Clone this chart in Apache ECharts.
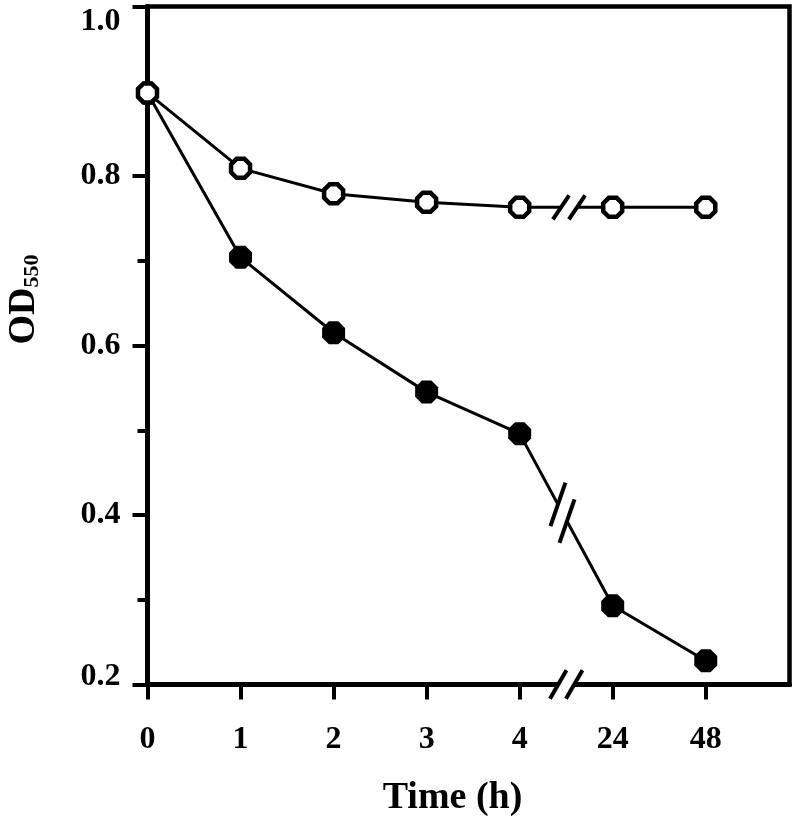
<!DOCTYPE html>
<html>
<head>
<meta charset="utf-8">
<script src="https://cdn.jsdelivr.net/npm/echarts@6/dist/echarts.min.js"></script>
<style>html,body{margin:0;padding:0;background:#fff;}#c{width:800px;height:819px;}</style>
</head>
<body>
<div id="c"></div>
<script>
// ---- data ----
const timeLabels = ['0', '1', '2', '3', '4', '24', '48'];
const timePositions = [0, 1, 2, 3, 4, 5, 6];
const openOD = [0.898, 0.809, 0.779, 0.769, 0.763, 0.763, 0.763];
const filledOD = [0.898, 0.704, 0.615, 0.545, 0.496, 0.293, 0.228];
const yTicks = [0.2, 0.4, 0.6, 0.8, 1.0];

// ---- decoration config (axis-break marks between 4 h and 24 h) ----
const FONT = "'Liberation Serif', 'Times New Roman', serif";
const octagon = 'path://M-0.414,-1L0.414,-1L1,-0.414L1,0.414L0.414,1L-0.414,1L-1,0.414L-1,-0.414Z';
const breakMarks = [
  { line: openOD, t: 0.53, angle: 56, len: 29, sep: 16 },
  { line: filledOD, t: 0.46, angle: 71, len: 46, sep: 19 },
  { line: null, t: 0.5, angle: 60, len: 33, sep: 16 }
];

const chart = echarts.init(document.getElementById('c'), null, { renderer: 'canvas' });

function renderBreak(params, api) {
  const b = breakMarks[params.dataIndex];
  const y1 = b.line ? b.line[4] : yTicks[0];
  const y2 = b.line ? b.line[5] : yTicks[0];
  const p1 = api.coord([timePositions[4], y1]);
  const p2 = api.coord([timePositions[5], y2]);
  const dx = p2[0] - p1[0], dy = p2[1] - p1[1];
  const L = Math.sqrt(dx * dx + dy * dy);
  const ux = dx / L, uy = dy / L;
  const cx = p1[0] + b.t * dx, cy = p1[1] + b.t * dy;
  const c1 = [cx - ux * b.sep / 2, cy - uy * b.sep / 2];
  const c2 = [cx + ux * b.sep / 2, cy + uy * b.sep / 2];
  const a = b.angle * Math.PI / 180;
  const sx = Math.cos(a) * b.len / 2, sy = -Math.sin(a) * b.len / 2;
  return {
    type: 'group',
    children: [
      { type: 'polygon', shape: { points: [[c1[0] - sx, c1[1] - sy], [c1[0] + sx, c1[1] + sy], [c2[0] + sx, c2[1] + sy], [c2[0] - sx, c2[1] - sy]] },
        style: { fill: '#fff', stroke: null } },
      { type: 'line', shape: { x1: c1[0] - sx, y1: c1[1] - sy, x2: c1[0] + sx, y2: c1[1] + sy }, style: { stroke: '#000', lineWidth: 4 } },
      { type: 'line', shape: { x1: c2[0] - sx, y1: c2[1] - sy, x2: c2[0] + sx, y2: c2[1] + sy }, style: { stroke: '#000', lineWidth: 4 } }
    ]
  };
}

const labelFont = { fontFamily: FONT, fontWeight: 'bold', fontSize: 32, color: '#000' };

const option = {
  backgroundColor: '#fff',
  animation: false,
  grid: {
    left: 147.5, right: 10.5, top: 6.5, bottom: 134.5,
    containLabel: false, outerBoundsMode: 'none',
    show: true, borderColor: '#000', borderWidth: 4.5, backgroundColor: 'transparent'
  },
  xAxis: {
    type: 'value',
    min: 0, max: 6.9, interval: 1,
    name: 'Time (h)',
    nameLocation: 'middle',
    nameGap: 95,
    nameTextStyle: { fontFamily: FONT, fontWeight: 'bold', fontSize: 38, color: '#000', padding: [0, 32, 0, 0] },
    axisLine: { show: true, lineStyle: { color: '#000', width: 5 } },
    axisTick: { show: true, length: 15, lineStyle: { color: '#000', width: 4 }, customValues: timePositions },
    axisLabel: Object.assign({
      show: true, margin: 39,
      customValues: timePositions,
      formatter: v => timeLabels[Math.round(v)]
    }, labelFont),
    splitLine: { show: false }
  },
  yAxis: {
    type: 'value',
    min: yTicks[0], max: yTicks[yTicks.length - 1], interval: 0.2,
    name: '{a|OD}{b|550}',
    nameLocation: 'middle',
    nameGap: 104,
    nameTextStyle: {
      padding: [0, 0, 0, 92],
      rich: {
        a: { fontFamily: FONT, fontWeight: 'bold', fontSize: 38, lineHeight: 38, color: '#000', verticalAlign: 'top' },
        b: { fontFamily: FONT, fontWeight: 'bold', fontSize: 22, lineHeight: 22, color: '#000', verticalAlign: 'bottom', padding: [20, 0, 0, 0] }
      }
    },
    axisLine: { show: true, lineStyle: { color: '#000', width: 5 } },
    axisTick: { show: true, length: 15, lineStyle: { color: '#000', width: 4 } },
    minorTick: { show: true, splitNumber: 2, length: 10, lineStyle: { color: '#000', width: 4 } },
    axisLabel: Object.assign({
      show: true, margin: 27,
      formatter: v => {
        const s = v.toFixed(1);
        if (Math.abs(v - yTicks[yTicks.length - 1]) < 1e-9) return '{hi|' + s + '}';
        if (Math.abs(v - yTicks[0]) < 1e-9) return '{lo|' + s + '}';
        return s;
      },
      rich: {
        hi: Object.assign({ padding: [30, 0, 0, 0] }, labelFont),
        lo: Object.assign({ padding: [0, 0, 16, 0] }, labelFont)
      }
    }, labelFont),
    splitLine: { show: false },
    minorSplitLine: { show: false }
  },
  series: [
    {
      name: 'filled', type: 'line', z: 3,
      data: timePositions.map((x, i) => [x, filledOD[i]]),
      symbol: octagon, symbolSize: 23,
      lineStyle: { color: '#000', width: 3 },
      itemStyle: { color: '#000', borderWidth: 0 },
      clip: false
    },
    {
      name: 'open', type: 'line', z: 4,
      data: timePositions.map((x, i) => [x, openOD[i]]),
      symbol: octagon, symbolSize: 19,
      lineStyle: { color: '#000', width: 3 },
      itemStyle: { color: '#fff', borderColor: '#000', borderWidth: 4.5 },
      clip: false
    },
    {
      name: 'breaks', type: 'custom', z: 10, clip: false, silent: true,
      data: breakMarks.map(() => [timePositions[4], yTicks[2]]),
      renderItem: renderBreak
    }
  ]
};
chart.setOption(option);
</script>
</body>
</html>
